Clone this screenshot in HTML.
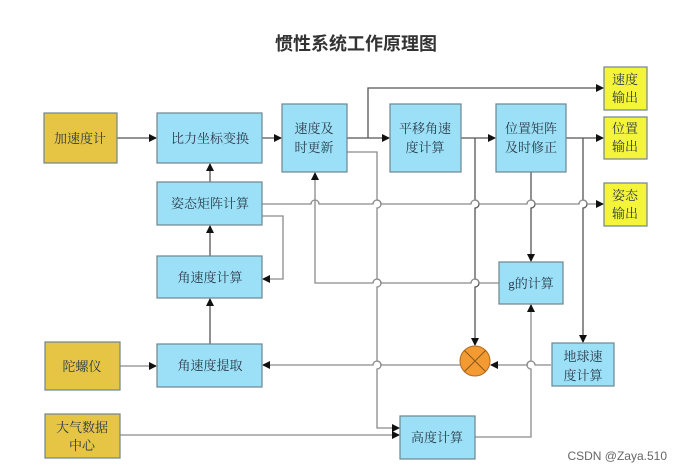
<!DOCTYPE html>
<html><head><meta charset="utf-8"><style>
html,body{margin:0;padding:0;background:#fff;}
svg{display:block;}
text{font-family:"Liberation Serif","Noto Serif CJK SC","Noto Sans CJK SC",serif;fill:#2a3a4a;}
</style></head><body>
<svg width="681" height="474" viewBox="0 0 681 474" xmlns="http://www.w3.org/2000/svg">
<defs>
<marker id="a" markerWidth="8" markerHeight="8" refX="7" refY="4" orient="auto" markerUnits="userSpaceOnUse">
<path d="M0,0 L8,4 L0,8 Z" fill="#111"/></marker>
</defs>
<text x="356" y="50" text-anchor="middle" font-size="18" font-weight="bold" style="font-family:'Liberation Sans','Noto Sans CJK SC',sans-serif;fill:#333">惯性系统工作原理图</text>

<g fill="none" stroke="#8a8a8a" stroke-width="1.3">
<!-- accel -> bili -->
<path d="M117,138 H156" marker-end="url(#a)" stroke="#555"/>
<path d="M262,138 H281" marker-end="url(#a)" stroke="#555"/>
<!-- attitude -> bili -->
<path d="M210,182 V164" marker-end="url(#a)" stroke="#555"/>
<!-- angvel calc -> attitude -->
<path d="M210,256 V226" marker-end="url(#a)" stroke="#555"/>
<!-- attitude loop to angvel calc -->
<path d="M262,216 H283 V279 H263" marker-end="url(#a)"/>
<!-- angvel extract -> angvel calc -->
<path d="M210,344 V299" marker-end="url(#a)" stroke="#555"/>
<!-- gyro -> extract -->
<path d="M120,366 H156" marker-end="url(#a)"/>
<!-- speed update -> pingyi -->
<path d="M347,138 H389" marker-end="url(#a)" stroke="#555"/>
<path d="M368,138 V88 H603" marker-end="url(#a)" stroke="#555"/>
<!-- speed update second line down to height -->
<path d="M347,152 H377 V200 a4,4 0 0 1 0,8 V279 a4,4 0 0 1 0,8 V361 a4,4 0 0 1 0,8 V428 H399" marker-end="url(#a)"/>
<!-- pingyi -> position -->
<path d="M461,138 H495" marker-end="url(#a)" stroke="#555"/>
<path d="M475,138 V200 a4,4 0 0 1 0,8 V279 a4,4 0 0 1 0,8 V345" marker-end="url(#a)" stroke="#555"/>
<!-- position -> output -->
<path d="M566,138 H603" marker-end="url(#a)" stroke="#555"/>
<path d="M583,138 V200 a4,4 0 0 1 0,8 V342" marker-end="url(#a)" stroke="#555"/>
<!-- position -> g -->
<path d="M531,172 V200 a4,4 0 0 1 0,8 V261" marker-end="url(#a)" stroke="#555"/>
<!-- attitude -> attitude out with hops -->
<path d="M262,204 H311 a4,4 0 0 1 8,0 H373 a4,4 0 0 1 8,0 H471 a4,4 0 0 1 8,0 H527 a4,4 0 0 1 8,0 H579 a4,4 0 0 1 8,0 H603" marker-end="url(#a)"/>
<!-- g -> speed update -->
<path d="M499,283 H479 a4,4 0 0 0 -8,0 H381 a4,4 0 0 0 -8,0 H315 V173" marker-end="url(#a)"/>
<!-- earth -> circle -->
<path d="M551,365 H535 a4,4 0 0 0 -8,0 H491" marker-end="url(#a)"/>
<!-- circle -> extract -->
<path d="M460,365 H381 a4,4 0 0 0 -8,0 H263" marker-end="url(#a)"/>
<!-- atmos -> height -->
<path d="M120,435 H399" marker-end="url(#a)"/>
<!-- height -> g -->
<path d="M475,437 H531 V369 a4,4 0 0 1 0,-8 V305" marker-end="url(#a)"/>
</g>

<g stroke="#6f8590" stroke-width="1.2">
<rect x="44" y="113" width="73" height="50" fill="#e6c444"/>
<rect x="45" y="342" width="75" height="48" fill="#e6c444"/>
<rect x="45" y="414" width="75" height="44" fill="#e6c444"/>
<rect x="157" y="113" width="105" height="50" fill="#9be0f6"/>
<rect x="157" y="182" width="105" height="43" fill="#9be0f6"/>
<rect x="157" y="256" width="105" height="42" fill="#9be0f6"/>
<rect x="157" y="344" width="105" height="43" fill="#9be0f6"/>
<rect x="282" y="104" width="65" height="68" fill="#9be0f6"/>
<rect x="390" y="104" width="71" height="68" fill="#9be0f6"/>
<rect x="496" y="104" width="70" height="68" fill="#9be0f6"/>
<rect x="499" y="262" width="64" height="42" fill="#9be0f6"/>
<rect x="552" y="343" width="62" height="43" fill="#9be0f6"/>
<rect x="400" y="416" width="75" height="43" fill="#9be0f6"/>
<rect x="604" y="67" width="43" height="43" fill="#f4f43a"/>
<rect x="604" y="117" width="43" height="42" fill="#f4f43a"/>
<rect x="604" y="183" width="43" height="43" fill="#f4f43a"/>
</g>
<circle cx="475" cy="361" r="15" fill="#f39a32" stroke="#b06a20" stroke-width="1"/>
<path d="M464.5,350.5 L485.5,371.5 M485.5,350.5 L464.5,371.5" stroke="#8a5a20" stroke-width="1"/>

<g font-size="13" text-anchor="middle">
<text x="80" y="143">加速度计</text>
<text x="82" y="371">陀螺仪</text>
<text x="82" y="432">大气数据</text>
<text x="82" y="450">中心</text>
<text x="210" y="143">比力坐标变换</text>
<text x="210" y="208">姿态矩阵计算</text>
<text x="210" y="282">角速度计算</text>
<text x="210" y="370">角速度提取</text>
<text x="314" y="133">速度及</text>
<text x="314" y="152">时更新</text>
<text x="425" y="133">平移角速</text>
<text x="425" y="152">度计算</text>
<text x="531" y="133">位置矩阵</text>
<text x="531" y="152">及时修正</text>
<text x="531" y="288">g的计算</text>
<text x="583" y="361">地球速</text>
<text x="583" y="380">度计算</text>
<text x="437" y="442">高度计算</text>
<text x="625" y="84">速度</text>
<text x="625" y="102">输出</text>
<text x="625" y="133">位置</text>
<text x="625" y="151">输出</text>
<text x="625" y="200">姿态</text>
<text x="625" y="218">输出</text>
</g>
<text x="667" y="460" text-anchor="end" font-size="12" style="font-family:'Liberation Sans',sans-serif;fill:#666">CSDN @Zaya.510</text>
</svg>
</body></html>
